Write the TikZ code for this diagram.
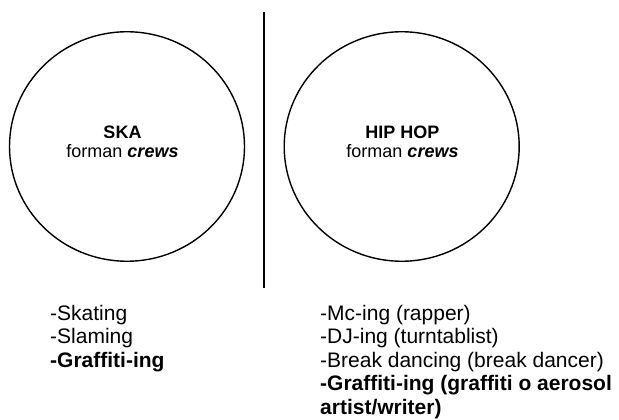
\documentclass[tikz,border=0pt]{standalone}
\usepackage{fontspec}
\setmainfont{Liberation Sans}[Ligatures=NoCommon]
\usetikzlibrary{shapes.geometric}
\begin{document}
\begin{tikzpicture}[x=1pt,y=-1pt,
  ring/.style={draw, line width=1.4pt, ellipse, minimum width=235pt, minimum height=229.5pt, inner sep=0pt},
  ctext/.style={anchor=base, inner sep=0pt, font=\fontsize{18}{20}\selectfont},
  ltext/.style={anchor=base west, inner sep=0pt, font=\fontsize{21}{23}\selectfont},
  divider/.style={line width=1.3pt}]
\useasboundingbox (0,0) rectangle (619,420);
\node[ring] (ska) at (127,146.5) {};
\node[ring] (hiphop) at (401.7,146.5) {};
\node[ctext] (skatitle) at (122.5,138.3) {\textbf{SKA}};
\node[ctext] (skacrews) at (122.5,157.5) {forman \textbf{\textit{crews}}};
\node[ctext] (hhtitle) at (402.5,138.3) {\textbf{HIP HOP}};
\node[ctext] (hhcrews) at (402.5,157.5) {forman \textbf{\textit{crews}}};
\coordinate (divtop) at (264,12);
\coordinate (divbot) at (264,288);
\draw[divider] (divtop) -- (divbot);
\node[ltext] (l1) at (50,320) {-Skating};
\node[ltext] (l2) at (50,343.5) {-Slaming};
\node[ltext] (l3) at (50,367) {\textbf{-Graffiti-ing}};
\node[ltext] (r1) at (320,320) {-Mc-ing (rapper)};
\node[ltext] (r2) at (320,343.5) {-DJ-ing (turntablist)};
\node[ltext] (r3) at (320,367) {-Break dancing (break dancer)};
\node[ltext] (r4) at (320,390.5) {\textbf{-Graffiti-ing (graffiti o aerosol}};
\node[ltext] (r5) at (320,414) {\textbf{artist/writer)}};
\end{tikzpicture}
\end{document}
